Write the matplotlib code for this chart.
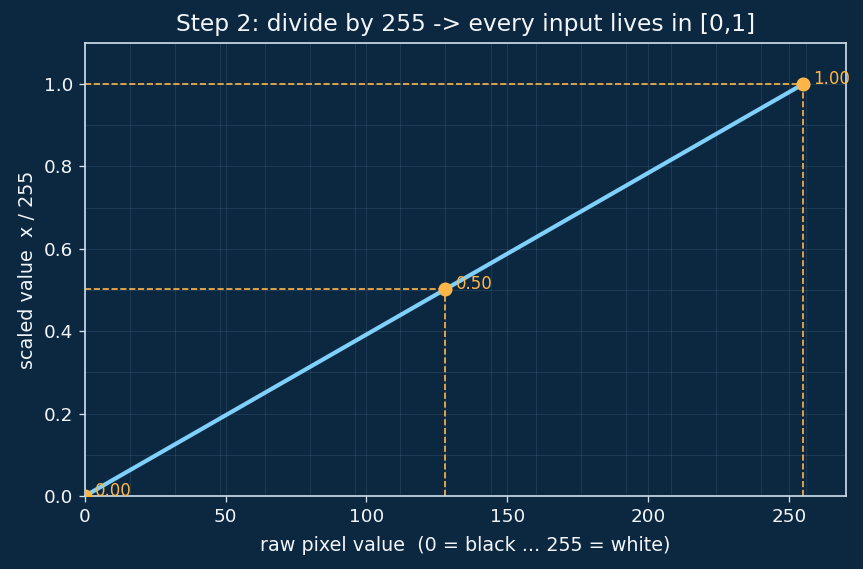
import numpy as np
import matplotlib.pyplot as plt

# raw pixel values and the highlighted samples
raw = np.arange(0, 256)
marked = [0, 128, 255]
labels = ["0.00", "0.50", "1.00"]

bg = "#0c2740"
fg = "#f2f6fa"
edge = "#cfe0ee"
blue = "#7fd0fa"
orange = "#ffb648"

fig, ax = plt.subplots(figsize=(863 / 120, 569 / 120), dpi=120)
fig.patch.set_facecolor(bg)
ax.set_facecolor(bg)

# faint grid every 16 px on x, every 0.1 on y
ax.set_xticks(np.arange(0, 271, 16), minor=True)
ax.set_yticks(np.arange(0, 1.11, 0.1), minor=True)
ax.tick_params(which="minor", length=0)
ax.grid(which="both", color="#3a5a78", linewidth=0.5, alpha=0.45)
ax.set_axisbelow(True)

ax.plot(raw, raw / 255, color=blue, linewidth=2.5, zorder=3)

for x, lab in zip(marked, labels):
    y = x / 255
    ax.plot([0, x], [y, y], color=orange, linestyle="--", linewidth=1, zorder=2)
    ax.plot([x, x], [0, y], color=orange, linestyle="--", linewidth=1, zorder=2)
    ax.scatter([x], [y], color=orange, s=55, zorder=4)
    ax.annotate(lab, (x, y), xytext=(6, 3), textcoords="offset points",
                color=orange, fontsize=10, va="center", zorder=5)

ax.set_xlim(0, 270)
ax.set_ylim(0, 1.1)
ax.set_xticks([0, 50, 100, 150, 200, 250])
ax.set_yticks([0.0, 0.2, 0.4, 0.6, 0.8, 1.0])

ax.set_title("Step 2: divide by 255 -> every input lives in [0,1]", color=fg, fontsize=14, pad=7)
ax.set_xlabel("raw pixel value  (0 = black ... 255 = white)", color=fg, fontsize=11.5, labelpad=6)
ax.set_ylabel("scaled value  x / 255", color=fg, fontsize=11.5)

ax.tick_params(which="major", colors=edge, labelcolor=fg, labelsize=11)
for s in ax.spines.values():
    s.set_color(edge)
    s.set_linewidth(1)

plt.subplots_adjust(left=0.098, right=0.98, top=0.925, bottom=0.128)
fig.savefig("out.png", dpi=120, facecolor=bg)
